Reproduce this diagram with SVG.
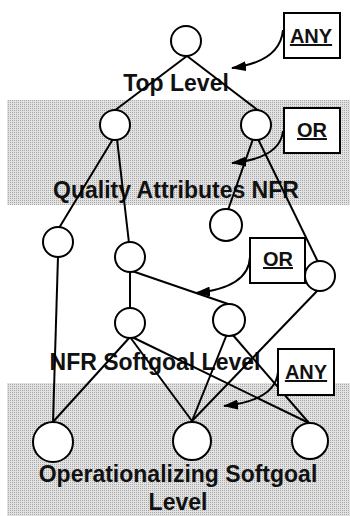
<svg xmlns="http://www.w3.org/2000/svg" width="350" height="516" viewBox="0 0 350 516">
<style>
.band{fill:url(#dots)}
.node circle{fill:#fff;stroke:#000;stroke-width:2}
.edge{stroke:#000;stroke-width:2;fill:none}
.lbl{font-family:"Liberation Sans",Arial,sans-serif;font-weight:bold;font-size:23px;fill:#111;text-anchor:middle}
.box rect{fill:#fff;stroke:#000;stroke-width:2}
.box text{font-family:"Liberation Sans",Arial,sans-serif;font-weight:bold;font-size:20px;fill:#111;text-anchor:middle;text-decoration:underline}
.arr{stroke:#000;stroke-width:2;fill:none;marker-end:url(#ah)}
</style>
<defs>
<pattern id="dots" width="2" height="2" patternUnits="userSpaceOnUse">
<rect width="2" height="2" fill="#e2e2e2"/>
<rect width="1" height="1" fill="#a8a8a8"/>
</pattern>
<marker id="ah" markerUnits="userSpaceOnUse" markerWidth="15" markerHeight="10" refX="14" refY="5" orient="auto">
<path d="M0,0 L15,5 L0,10 z" fill="#000"/>
</marker>
</defs>
<rect width="350" height="516" fill="#fff"/>
<rect class="band" x="7" y="100" width="343" height="105"/>
<rect class="band" x="7" y="383" width="343" height="133"/>

<text class="lbl" x="176" y="91">Top Level</text>
<text class="lbl" x="176" y="198">Quality Attributes NFR</text>
<text class="lbl" x="155" y="370">NFR Softgoal Level</text>
<text class="lbl" x="178" y="482">Operationalizing Softgoal</text>
<text class="lbl" x="178" y="510">Level</text>

<g id="connectors">
<line class="edge" x1="187" y1="56" x2="114" y2="111"/>
<line class="edge" x1="187" y1="56" x2="259" y2="111"/>
<line class="edge" x1="113" y1="139" x2="59" y2="228"/>
<line class="edge" x1="117" y1="139" x2="129" y2="243"/>
<line class="edge" x1="253" y1="139" x2="228" y2="210"/>
<line class="edge" x1="258" y1="139" x2="318" y2="262"/>
<line class="edge" x1="58" y1="256" x2="53" y2="423"/>
<line class="edge" x1="130" y1="271" x2="130" y2="309"/>
<line class="edge" x1="132" y1="271" x2="234" y2="306"/>
<line class="edge" x1="318" y1="290" x2="192" y2="421"/>
<line class="edge" x1="130" y1="337" x2="52" y2="423"/>
<line class="edge" x1="130" y1="337" x2="192" y2="421"/>
<line class="edge" x1="132" y1="337" x2="309" y2="423"/>
<line class="edge" x1="227" y1="334" x2="192" y2="421"/>
<line class="edge" x1="232" y1="334" x2="309" y2="423"/>
<path class="arr" d="M283,30 C281,52 262,64 232,68"/>
<path class="arr" d="M283,131 C281,150 262,160 232,163"/>
<path class="arr" d="M250,257 C249,280 225,290 196,293"/>
<path class="arr" d="M278,372 C276,394 252,403 224,406"/>
</g>

<g id="n-top" class="node"><circle cx="186" cy="41" r="15"/></g>
<g id="n-qa-left" class="node"><circle cx="115" cy="125" r="15"/></g>
<g id="n-qa-right" class="node"><circle cx="256" cy="125" r="15"/></g>
<g id="n-a" class="node"><circle cx="58" cy="242" r="15"/></g>
<g id="n-b" class="node"><circle cx="130" cy="257" r="15"/></g>
<g id="n-c" class="node"><circle cx="226" cy="225" r="16"/></g>
<g id="n-d" class="node"><circle cx="320" cy="276" r="15"/></g>
<g id="n-nfr-left" class="node"><circle cx="130" cy="323" r="15"/></g>
<g id="n-nfr-right" class="node"><circle cx="229" cy="320" r="16"/></g>
<g id="n-op-left" class="node"><circle cx="53" cy="442" r="20"/></g>
<g id="n-op-mid" class="node"><circle cx="192" cy="441" r="19"/></g>
<g id="n-op-right" class="node"><circle cx="310" cy="441" r="18"/></g>

<g id="box-any1" class="box"><rect x="284" y="13" width="56" height="45"/><text x="311" y="43">ANY</text></g>
<g id="box-or1" class="box"><rect x="284" y="108" width="56" height="45"/><text x="312" y="137">OR</text></g>
<g id="box-or2" class="box"><rect x="250" y="238" width="55" height="45"/><text x="278" y="266">OR</text></g>
<g id="box-any2" class="box"><rect x="278" y="349" width="56" height="46"/><text x="306" y="379">ANY</text></g>
</svg>
